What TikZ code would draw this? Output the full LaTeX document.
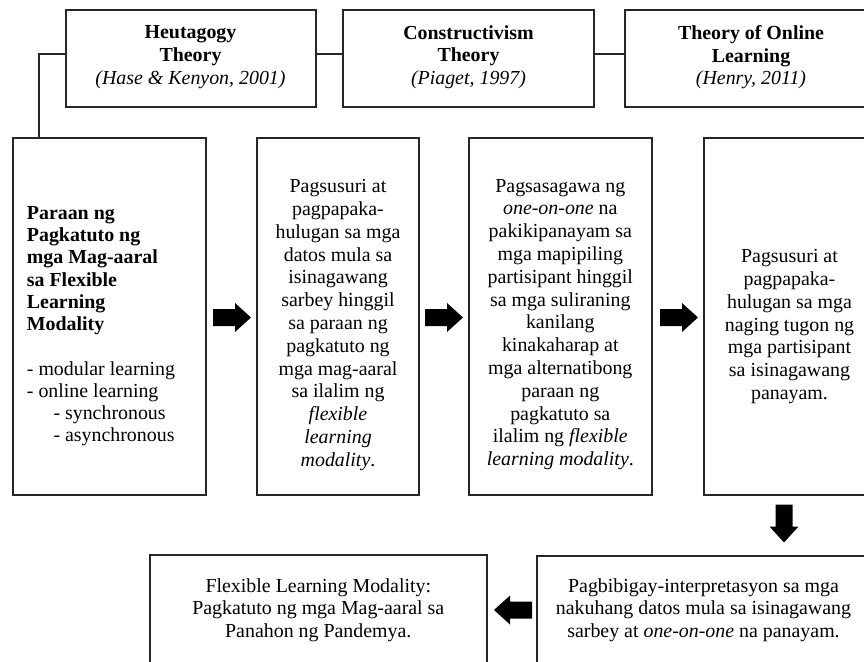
\documentclass[tikz,border=0pt]{standalone}
\usepackage{fontspec}
\setmainfont{Liberation Serif}
\begin{document}
\begin{tikzpicture}[x=1pt,y=-1pt,
  box/.style={draw=black!85,line width=1.6pt,rectangle,inner sep=0pt},
  txt/.style={inner sep=0pt,align=center,font=\fontsize{19.9}{22.8}\selectfont,
     execute at begin node=\strut,execute at end node=\strut},
  conn/.style={draw=black!85,line width=1.6pt},
  blockarrow/.pic={\fill (0,-8.5) -- (22,-8.5) -- (22,-14.5) -- (38,0) -- (22,14.5) -- (22,8.5) -- (0,8.5) -- cycle;}
]
\useasboundingbox (0,0) rectangle (864,661);
\clip (0,0) rectangle (864,661);
\fill[white] (0,0) rectangle (864,661);

% top theory boxes
\node[box,minimum width=250pt,minimum height=97pt] (h) at (191,58.5) {};
\node[box,minimum width=251pt,minimum height=97pt] (c) at (468.5,58.5) {};
\node[box,minimum width=252pt,minimum height=97pt] (o) at (751,58.5) {};
\node[txt] (ht) at (190.5,58.5) {\textbf{Heutagogy}\\\textbf{Theory}\\\textit{(Hase \& Kenyon, 2001)}};
\node[txt] (ct) at (468.5,58.5) {\textbf{Constructivism}\\\textbf{Theory}\\\textit{(Piaget, 1997)}};
\node[txt] (ot) at (751,58.5) {\textbf{Theory of Online}\\\textbf{Learning}\\\textit{(Henry, 2011)}};

% process boxes
\node[box,minimum width=193pt,minimum height=357pt] (b1) at (109.5,316.5) {};
\node[box,minimum width=162pt,minimum height=357pt] (b2) at (338,316.5) {};
\node[box,minimum width=183pt,minimum height=357pt] (b3) at (560.5,316.5) {};
\node[box,minimum width=170pt,minimum height=357pt] (b4) at (789,316.5) {};

\node[txt,align=left,anchor=west,font=\fontsize{19.9}{22.2}\selectfont] (t1) at (26.7,327.5) {\textbf{Paraan ng}\\\textbf{Pagkatuto ng}\\\textbf{mga Mag-aaral}\\\textbf{sa Flexible}\\\textbf{Learning}\\\textbf{Modality}\\[22.4pt]- modular learning\\- online learning\\\hspace*{26.6pt}- synchronous\\\hspace*{26.6pt}- asynchronous};

\node[txt] (t2) at (338,326.3) {Pagsusuri at\\pagpapaka-\\hulugan sa mga\\datos mula sa\\isinagawang\\sarbey hinggil\\sa paraan ng\\pagkatuto ng\\mga mag-aaral\\sa ilalim ng\\\textit{flexible}\\\textit{learning}\\\textit{modality}.};

\node[txt] (t3) at (560.3,325.7) {Pagsasagawa ng\\\textit{one-on-one} na\\pakikipanayam sa\\mga mapipiling\\partisipant hinggil\\sa mga suliraning\\kanilang\\kinakaharap at\\mga alternatibong\\paraan ng\\pagkatuto sa\\ilalim ng \textit{flexible}\\\textit{learning modality}.};

\node[txt] (t4) at (789.5,328) {Pagsusuri at\\pagpapaka-\\hulugan sa mga\\naging tugon ng\\mga partisipant\\sa isinagawang\\panayam.};

% bottom boxes
\node[box,minimum width=337pt,minimum height=150pt] (b5) at (318.5,630) {};
\node[box,minimum width=334pt,minimum height=150pt] (b6) at (704,631) {};
\node[txt] (t5) at (318.3,611.5) {Flexible Learning Modality:\\Pagkatuto ng mga Mag-aaral sa\\Panahon ng Pandemya.};
\node[txt] (t6) at (703.5,611.5) {Pagbibigay-interpretasyon sa mga\\nakuhang datos mula sa isinagawang\\sarbey at \textit{one-on-one} na panayam.};

% connectors
\draw[conn] ([yshift=4.5pt]h.west) -| ([xshift=26.5pt]b1.north west);
\draw[conn] ([yshift=4.5pt]h.east) -- ([yshift=4.5pt]c.west);
\draw[conn] ([yshift=4.5pt]c.east) -- ([yshift=4.5pt]o.west);

% block arrows
\pic at (213,317.5) {blockarrow};
\pic at (425,317.5) {blockarrow};
\pic at (660,317.5) {blockarrow};
\pic[rotate=-90] at (784,504.5) {blockarrow};
\pic[rotate=180] at (532,610) {blockarrow};
\end{tikzpicture}
\end{document}
